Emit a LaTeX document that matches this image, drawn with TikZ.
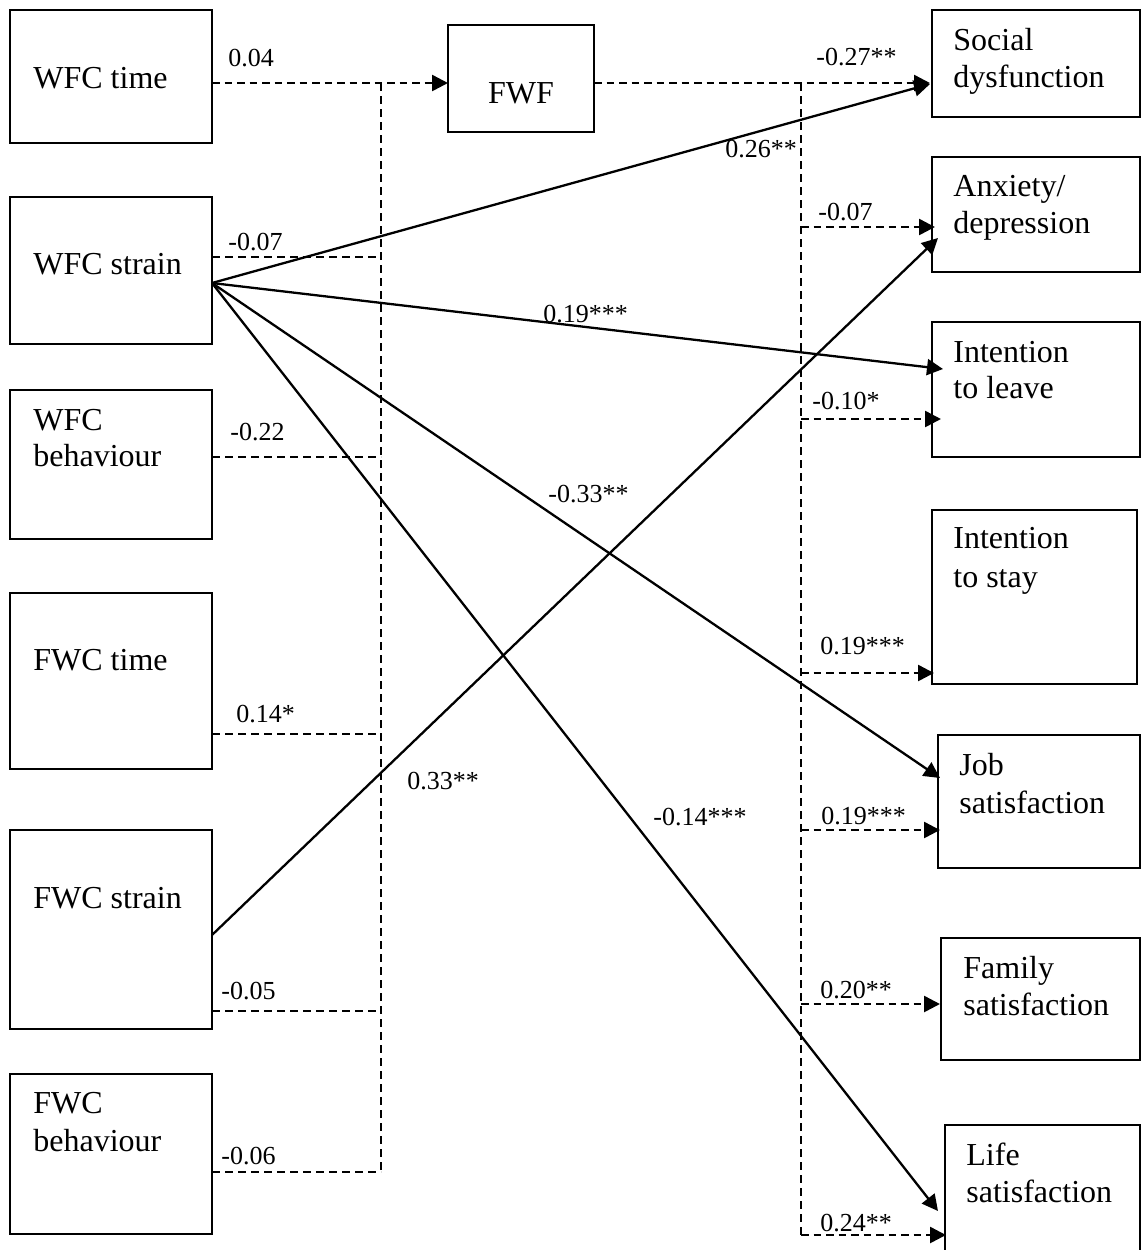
\documentclass[tikz,border=0pt]{standalone}
\usepackage{fontspec}
\setmainfont{Liberation Serif}
\usetikzlibrary{arrows.meta}
\begin{document}
\begin{tikzpicture}[x=0.5pt,y=-0.5pt,
  box/.style 2 args={draw,line width=1pt,inner sep=0pt,minimum width=#1,minimum height=#2},
  boxtext/.style={font=\fontsize{16}{19}\selectfont,anchor=base west,inner sep=0pt},
  coef/.style={font=\fontsize{13}{15}\selectfont,anchor=base west,inner sep=0pt},
  tip/.style={-{Triangle[length=8pt,width=8pt]}},
  effect/.style={line width=1.15pt},
  mainpath/.style={line width=1.3pt,dash pattern=on 3.75pt off 2.5pt},
  feeder/.style={line width=0.75pt,dash pattern=on 4pt off 2.5pt}]
\useasboundingbox (0,0) rectangle (1141,1250);
\clip (0,0) rectangle (1141,1250);

% ---------- predictors ----------
\node[box={101pt}{66.5pt}] (wt) at (111,76.5) {};
\node[box={101pt}{73.5pt}] (ws) at (111,270.5) {};
\node[box={101pt}{74.5pt}] (wb) at (111,464.5) {};
\node[box={101pt}{88pt}]   (ft) at (111,681) {};
\node[box={101pt}{99.5pt}] (fs) at (111,929.5) {};
\node[box={101pt}{80pt}]   (fb) at (111,1154) {};

\node[boxtext] (wt-a) at (33,88) {WFC time};
\node[boxtext] (ws-a) at (33,274) {WFC strain};
\node[boxtext] (wb-a) at (33,430) {WFC};
\node[boxtext] (wb-b) at (33,466) {behaviour};
\node[boxtext] (ft-a) at (33,670) {FWC time};
\node[boxtext] (fs-a) at (33,908) {FWC strain};
\node[boxtext] (fb-a) at (33,1113) {FWC};
\node[boxtext] (fb-b) at (33,1151) {behaviour};

% ---------- mediator ----------
\node[box={73pt}{53.5pt}] (fwf) at (521,78.5) {};
\node[boxtext,anchor=base] (fwf-a) at (521,103) {FWF};

% ---------- outcomes ----------
\node[box={104pt}{53.5pt}]  (sd) at (1036,63.5) {};
\node[box={104pt}{57.5pt}]  (ad) at (1036,214.5) {};
\node[box={104pt}{67.5pt}]  (il) at (1036,389.5) {};
\node[box={102.5pt}{87pt}]  (is) at (1034.5,597) {};
\node[box={101pt}{66.5pt}]  (js) at (1039,801.5) {};
\node[box={99.5pt}{61pt}]   (fsat) at (1040.5,999) {};
\node[box={97.5pt}{75pt}]   (ls) at (1042.5,1200) {};

\node[boxtext] (sd-a) at (953,50) {Social};
\node[boxtext] (sd-b) at (953,87) {dysfunction};
\node[boxtext] (ad-a) at (953,196) {Anxiety/};
\node[boxtext] (ad-b) at (953,233) {depression};
\node[boxtext] (il-a) at (953,362) {Intention};
\node[boxtext] (il-b) at (953,398) {to leave};
\node[boxtext] (is-a) at (953,548) {Intention};
\node[boxtext] (is-b) at (953,587) {to stay};
\node[boxtext] (js-a) at (959,775) {Job};
\node[boxtext] (js-b) at (959,813) {satisfaction};
\node[boxtext] (fsat-a) at (963,978) {Family};
\node[boxtext] (fsat-b) at (963,1015) {satisfaction};
\node[boxtext] (ls-a) at (966,1165) {Life};
\node[boxtext] (ls-b) at (966,1202) {satisfaction};

% ---------- connection points ----------
\coordinate (wt-o) at (212,83);
\coordinate (ws-o) at (212,257);
\coordinate (wb-o) at (212,457);
\coordinate (ft-o) at (212,734);
\coordinate (fs-o) at (212,1011);
\coordinate (fb-o) at (212,1172);
\coordinate (jl-top) at (381,83);
\coordinate (jl-bot) at (381,1172);
\coordinate (fwf-in) at (448,83);
\coordinate (fwf-out) at (594,83);
\coordinate (jr-top) at (801,83);
\coordinate (jr-bot) at (801,1235);
\coordinate (sd-in) at (930,83);
\coordinate (ws-src) at (212,283);
\coordinate (fs-src) at (212,935);

% ---------- predictors -> FWF ----------
\draw[mainpath,tip] (wt-o) -- (fwf-in);
\draw[feeder] (jl-top) -- (jl-bot);
\draw[feeder] (ws-o) -- (ws-o -| jl-top);
\draw[feeder] (wb-o) -- (wb-o -| jl-top);
\draw[feeder] (ft-o) -- (ft-o -| jl-top);
\draw[feeder] (fs-o) -- (fs-o -| jl-top);
\draw[feeder] (fb-o) -- (jl-bot);

% ---------- FWF -> outcomes ----------
\draw[mainpath,tip] (fwf-out) -- (sd-in);
\draw[feeder] (jr-top) -- (jr-bot);
\draw[mainpath,tip] (801,227) -- (935,227);
\draw[mainpath,tip] (801,419) -- (941,419);
\draw[mainpath,tip] (801,673) -- (934,673);
\draw[mainpath,tip] (801,830) -- (940,830);
\draw[mainpath,tip] (801,1004) -- (940,1004);
\draw[mainpath,tip] (jr-bot) -- (946,1235);

% ---------- direct effects ----------
\draw[effect,tip] (ws-src) -- (930,84);
\draw[effect,tip] (ws-src) -- (943,369);
\draw[effect,tip] (ws-src) -- (940,778);
\draw[effect,tip] (ws-src) -- (938,1211);
\draw[effect,tip] (fs-src) -- (938,238);

% ---------- coefficients ----------
\node[coef] (c1)  at (228,66)   {0.04};
\node[coef] (c2)  at (228,250)  {-0.07};
\node[coef] (c3)  at (230,440)  {-0.22};
\node[coef] (c4)  at (236,722)  {0.14*};
\node[coef] (c5)  at (221,999)  {-0.05};
\node[coef] (c6)  at (221,1164) {-0.06};
\node[coef] (c7)  at (816,65)   {-0.27**};
\node[coef] (c8)  at (725,157)  {0.26**};
\node[coef] (c9)  at (818,220)  {-0.07};
\node[coef] (c10) at (543,322)  {0.19***};
\node[coef] (c11) at (812,409)  {-0.10*};
\node[coef] (c12) at (548,502)  {-0.33**};
\node[coef] (c13) at (820,654)  {0.19***};
\node[coef] (c14) at (407,789)  {0.33**};
\node[coef] (c15) at (653,825)  {-0.14***};
\node[coef] (c16) at (821,824)  {0.19***};
\node[coef] (c17) at (820,998)  {0.20**};
\node[coef] (c18) at (820,1231) {0.24**};
\end{tikzpicture}
\end{document}
